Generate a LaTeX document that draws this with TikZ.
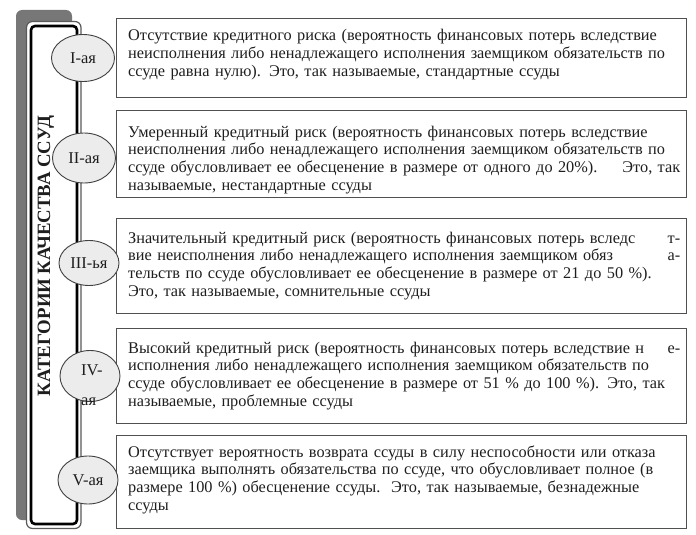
\documentclass[tikz,border=0pt]{standalone}
\usepackage{fontspec}
\setmainfont{Liberation Serif}
\usetikzlibrary{shapes.geometric}
\definecolor{boxline}{HTML}{505050}
\definecolor{txtc}{HTML}{1E1E1E}
\definecolor{ellfill}{HTML}{ECECEC}
\definecolor{shadowgray}{HTML}{777777}
\begin{document}
\begin{tikzpicture}[x=1pt,y=-1pt,
  catbox/.style={draw=boxline, line width=1.4pt, rectangle, anchor=north west, inner sep=0pt, minimum width=570pt},
  desc/.style={anchor=base west, inner sep=0pt, text width=552pt, align=left, text=txtc, font=\fontsize{16.3}{17.8}\selectfont},
  cat/.style={ellipse, draw=black!75, line width=0.9pt, fill=ellfill, inner sep=0pt, text=txtc, font=\fontsize{16.5}{16.5}\selectfont}]
\useasboundingbox (0,0) rectangle (696,535);
% left frame
\fill[shadowgray, rounded corners=6pt] (16,10) rectangle (72,520);
\draw[black!65, line width=1.2pt, fill=white, rounded corners=6pt] (26.5,21.5) rectangle (81,528.5);
\draw[black, line width=2.6pt, rounded corners=4pt] (31,26) rectangle (77,524);
\node[rotate=90, inner sep=0pt, text=txtc, font=\bfseries\fontsize{18.8}{18.8}\selectfont] (title) at (46,256) {КАТЕГОРИИ КАЧЕСТВА ССУД};
% boxes
\node[catbox, minimum height=79pt] (b1) at (116,18) {};
\node[catbox, minimum height=87pt] (b2) at (116,110) {};
\node[catbox, minimum height=95pt] (b3) at (116,218) {};
\node[catbox, minimum height=95pt] (b4) at (116,328) {};
\node[catbox, minimum height=93pt] (b5) at (116,435) {};
\node[desc] (t1) at (128,41) {Отсутствие кредитного риска (вероятность финансовых потерь вследствие\\
неисполнения либо ненадлежащего исполнения заемщиком обязательств по\\
ссуде равна нулю). Это, так называемые, стандартные ссуды};
\node[desc] (t2) at (128,137) {Умеренный кредитный риск (вероятность финансовых потерь вследствие\\
неисполнения либо ненадлежащего исполнения заемщиком обязательств по\\
ссуде обусловливает ее обесценение в размере от одного до 20\%).\hfill Это, так\\
называемые, нестандартные ссуды};
\node[desc] (t3) at (128,243) {Значительный кредитный риск (вероятность финансовых потерь вследс\hfill т-\\
вие неисполнения либо ненадлежащего исполнения заемщиком обяз\hfill а-\\
тельств по ссуде обусловливает ее обесценение в размере от 21 до 50 \%).\\
Это, так называемые, сомнительные ссуды};
\node[desc] (t4) at (128,353) {Высокий кредитный риск (вероятность финансовых потерь вследствие н\hfill е-\\
исполнения либо ненадлежащего исполнения заемщиком обязательств по\\
ссуде обусловливает ее обесценение в размере от 51 \% до 100 \%). Это, так\\
называемые, проблемные ссуды};
\node[desc] (t5) at (128,457) {Отсутствует вероятность возврата ссуды в силу неспособности или отказа\\
заемщика выполнять обязательства по ссуде, что обусловливает полное (в\\
размере 100 \%) обесценение ссуды.\ \ Это, так называемые, безнадежные\\
ссуды};
% categories
\node[cat, minimum width=63pt, minimum height=47pt] (e1) at (83,58) {I-ая};
\node[cat, minimum width=63pt, minimum height=50pt] (e2) at (84,158) {II-ая};
\node[cat, minimum width=60pt, minimum height=45pt] (e3) at (89,263) {III-ья};
\node[cat, minimum width=60pt, minimum height=51pt] (e4) at (90,376) {};
\node[anchor=base west, inner sep=0pt, align=left, text=txtc, font=\fontsize{16.5}{30}\selectfont] (e4t) at (81,405) {IV-\\ая};
\node[cat, minimum width=60pt, minimum height=48pt] (e5) at (88,480) {V-ая};
\end{tikzpicture}
\end{document}
